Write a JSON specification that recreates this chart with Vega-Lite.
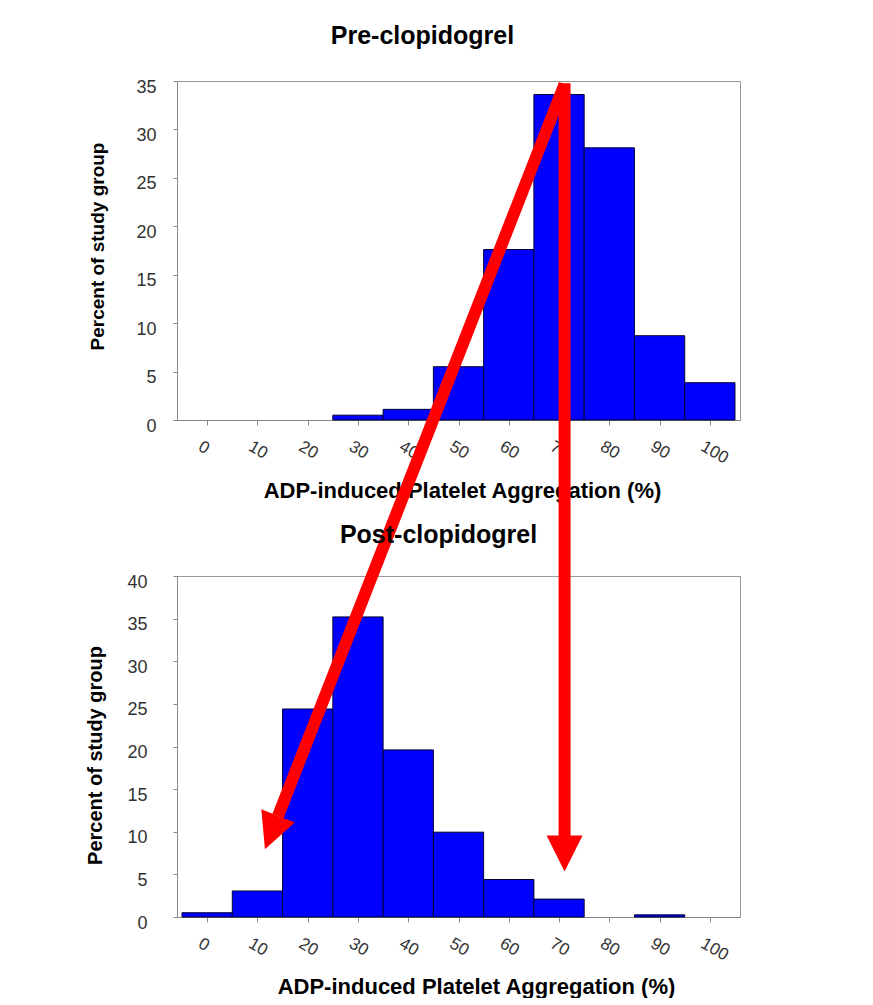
{
  "$schema": "https://vega.github.io/schema/vega-lite/v6.json",
  "background": "white",
  "padding": {"left": 84, "top": 23, "right": 0, "bottom": 0},
  "config": {
    "font": "Liberation Sans",
    "view": {"stroke": "#999999", "strokeWidth": 1},
    "axis": {
      "domainColor": "#888888",
      "tickColor": "#888888",
      "grid": false,
      "labelColor": "#333333",
      "labelFont": "Liberation Sans",
      "titleFont": "Liberation Sans",
      "titleColor": "#000000",
      "titleFontWeight": "bold"
    },
    "title": {"font": "Liberation Sans", "fontWeight": "bold", "color": "#000000", "frame": "group"}
  },
  "bounds": "flush",
  "spacing": 156,
  "vconcat": [
    {
      "width": 563,
      "height": 339,
      "title": {"text": "Pre-clopidogrel", "fontSize": 25, "anchor": "middle", "dx": -36, "offset": 29, "frame": "group"},
      "data": {"values": [
        {"lo": 25, "hi": 35, "pct": 0.5},
        {"lo": 35, "hi": 45, "pct": 1.1},
        {"lo": 45, "hi": 55, "pct": 5.5},
        {"lo": 55, "hi": 65, "pct": 17.6},
        {"lo": 65, "hi": 75, "pct": 33.6},
        {"lo": 75, "hi": 85, "pct": 28.1},
        {"lo": 85, "hi": 95, "pct": 8.7},
        {"lo": 95, "hi": 105, "pct": 3.85}
      ]},
      "mark": {"type": "rect", "fill": "#0000FF", "stroke": "#000033", "strokeWidth": 1},
      "encoding": {
        "x": {"field": "lo", "type": "quantitative",
          "scale": {"domain": [-6, 106], "nice": false, "zero": false},
          "axis": {"values": [0, 10, 20, 30, 40, 50, 60, 70, 80, 90, 100], "labelAngle": 30, "labelAlign": "left", "labelBaseline": "middle", "labelOffset": -8, "labelFontSize": 17, "tickSize": 5, "labelPadding": 20,
            "title": "ADP-induced Platelet Aggregation (%)", "titleFontSize": 22, "titleX": 285, "titleY": 70, "titleBaseline": "middle", "titleAlign": "center"}},
        "x2": {"field": "hi"},
        "y": {"field": "pct", "type": "quantitative",
          "scale": {"domain": [0, 35], "nice": false},
          "axis": {"values": [0, 5, 10, 15, 20, 25, 30, 35], "labelFontSize": 18, "tickSize": 4, "labelPadding": 17, "labelOffset": 6,
            "title": "Percent of study group", "titleFontSize": 19, "titleX": -80, "titleY": 165, "titleBaseline": "middle", "titleAlign": "center", "titleAngle": -90}},
        "y2": {"datum": 0}
      }
    },
    {
      "width": 563,
      "height": 341,
      "title": {"text": "Post-clopidogrel", "fontSize": 25, "anchor": "middle", "dx": -20, "dy": 498, "offset": 27, "frame": "group"},
      "layer": [
        {
          "data": {"values": [
            {"lo": -5, "hi": 5, "pct": 0.5},
            {"lo": 5, "hi": 15, "pct": 3.05},
            {"lo": 15, "hi": 25, "pct": 24.4},
            {"lo": 25, "hi": 35, "pct": 35.2},
            {"lo": 35, "hi": 45, "pct": 19.6},
            {"lo": 45, "hi": 55, "pct": 9.95},
            {"lo": 55, "hi": 65, "pct": 4.4},
            {"lo": 65, "hi": 75, "pct": 2.1},
            {"lo": 85, "hi": 95, "pct": 0.25}
          ]},
          "mark": {"type": "rect", "fill": "#0000FF", "stroke": "#000033", "strokeWidth": 1},
          "encoding": {
            "x": {"field": "lo", "type": "quantitative",
              "scale": {"domain": [-6, 106], "nice": false, "zero": false},
              "axis": {"values": [0, 10, 20, 30, 40, 50, 60, 70, 80, 90, 100], "labelAngle": 30, "labelAlign": "left", "labelBaseline": "middle", "labelOffset": -8, "labelFontSize": 17, "tickSize": 5, "labelPadding": 20,
                "title": "ADP-induced Platelet Aggregation (%)", "titleFontSize": 22, "titleX": 299, "titleY": 69, "titleBaseline": "middle", "titleAlign": "center"}},
            "x2": {"field": "hi"},
            "y": {"field": "pct", "type": "quantitative",
              "scale": {"domain": [0, 40], "nice": false},
              "axis": {"values": [0, 5, 10, 15, 20, 25, 30, 35, 40], "labelFontSize": 18, "tickSize": 4, "labelPadding": 26, "labelOffset": 6,
                "title": "Percent of study group", "titleFontSize": 20, "titleX": -82, "titleY": 179, "titleBaseline": "middle", "titleAlign": "center", "titleAngle": -90}},
            "y2": {"datum": 0}
          }
        },
        {
          "data": {"values": [
            {"ax": 71.1, "ay": 97.8, "bx": 71.1, "by": 9.0},
            {"ax": 71.1, "ay": 97.7, "bx": 14.1, "by": 11.85}
          ]},
          "mark": {"type": "rule", "color": "#FF0000", "strokeWidth": 12, "strokeCap": "butt", "clip": false},
          "encoding": {
            "x": {"field": "ax", "type": "quantitative"},
            "y": {"field": "ay", "type": "quantitative"},
            "x2": {"field": "bx"},
            "y2": {"field": "by"}
          }
        },
        {
          "data": {"values": [
            {"hx": 71.1, "hy": 7.45, "ang": 0},
            {"hx": 12.8, "hy": 9.9, "ang": 21.4}
          ]},
          "mark": {"type": "point", "shape": "M -1 -1 L 1 -1 L 0 1 Z", "filled": true, "fill": "#FF0000", "opacity": 1, "strokeWidth": 0, "size": 1296, "clip": false},
          "encoding": {
            "x": {"field": "hx", "type": "quantitative"},
            "y": {"field": "hy", "type": "quantitative"},
            "angle": {"field": "ang", "type": "quantitative", "scale": null}
          }
        }
      ]
    }
  ]
}
